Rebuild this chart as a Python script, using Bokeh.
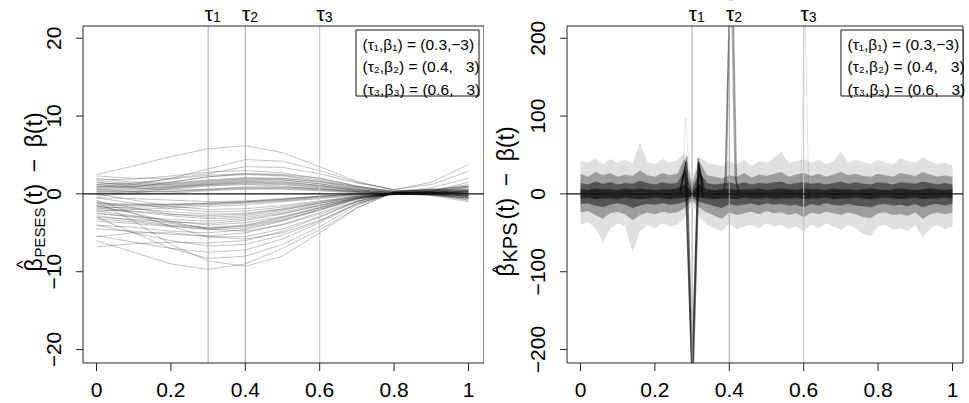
import math
from bokeh.plotting import figure
from bokeh.layouts import row
from bokeh.models import Range1d, Label, BoxAnnotation
from bokeh.embed import file_html
from bokeh.resources import INLINE

FONT = "Liberation Sans"
SHIFT = 0.26   # em; compensates the drop of Bokeh's "alphabetic" label baseline

# ---------------- data ----------------
X_TICKS = [0.0, 0.2, 0.4, 0.6, 0.8, 1.0]
Y_TICKS_PESES = [-20, -10, 0, 10, 20]
Y_TICKS_KPS = [-200, -100, 0, 100, 200]
TAUS = [0.3, 0.4, 0.6]
TAU_SUBS = ["1", "2", "3"]
TAU_COLORS = ["#a8a8a8", "#a8a8a8", "#c6c6c6"]
LEGEND_LINES = ["(\u03c4\u2081,\u03b2\u2081) = (0.3,\u22123)",
                "(\u03c4\u2082,\u03b2\u2082) = (0.4,\u2007 3)",
                "(\u03c4\u2083,\u03b2\u2083) = (0.6,\u2007 3)"]

# PESES estimation errors, read at t = 0, 0.1, ..., 1
T_KNOTS = [0.0, 0.1, 0.2, 0.3, 0.4, 0.5, 0.6, 0.7, 0.8, 0.9, 1.0]
PESES_UPPER = [
    [2.5, 3.6, 4.8, 5.8, 6.2, 5.3, 3.5, 1.6, 0.5, 0.2, 0.0],
    [1.0, 1.2, 2.0, 3.2, 4.4, 4.2, 3.0, 1.5, 0.5, 1.5, 3.8],
    [2.3, 2.0, 2.0, 2.6, 3.5, 3.4, 2.6, 1.4, 0.6, 1.2, 2.9],
    [2.0, 1.5, 1.5, 2.2, 2.6, 2.5, 2.0, 1.0, 0.3, 0.8, 2.0],
    [1.7, 1.3, 1.2, 1.6, 2.0, 2.0, 1.6, 0.9, 0.4, 0.5, 1.0],
    [1.5, 1.0, 1.1, 1.5, 1.8, 1.8, 1.3, 0.6, 0.1, 0.3, 1.5],
    [1.2, 0.9, 1.0, 1.4, 1.7, 1.6, 1.1, 0.4, 0.0, 0.2, 0.5],
    [0.8, 0.7, 0.9, 1.3, 1.6, 1.5, 1.1, 0.5, 0.1, 0.0, -0.3],
    [0.5, 0.6, 0.9, 1.2, 1.5, 1.4, 1.0, 0.5, 0.2, 0.1, 0.3],
    [0.3, 0.4, 0.8, 1.2, 1.4, 1.3, 0.9, 0.4, 0.1, -0.1, -0.5],
    [0.0, 0.3, 0.7, 1.1, 1.3, 1.2, 0.8, 0.3, 0.0, -0.2, -1.0],
    [-0.3, 0.1, 0.6, 1.0, 1.2, 1.0, 0.6, 0.2, 0.0, 0.0, 0.2],
    [1.0, 0.8, 0.5, 0.6, 0.8, 0.8, 0.6, 0.3, 0.0, 0.0, 0.5],
    [0.6, 0.3, 0.3, 0.5, 0.7, 0.7, 0.5, 0.2, 0.0, 0.3, 1.0],
    [0.2, 0.0, 0.1, 0.4, 0.6, 0.6, 0.4, 0.1, -0.1, 0.1, 0.8],
    [1.8, 1.9, 2.3, 2.8, 3.0, 2.7, 2.0, 1.0, 0.3, 0.4, 1.2],
    [0.7, 0.9, 1.5, 2.2, 2.5, 2.3, 1.6, 0.8, 0.2, -0.2, -0.6],
    [1.2, 1.4, 1.9, 2.4, 2.6, 2.4, 1.8, 0.9, 0.2, 0.0, 0.0],
    [0.4, 0.2, 0.3, 0.6, 0.9, 0.9, 0.7, 0.3, 0.0, 0.0, 0.3],
    [0.9, 1.0, 1.3, 1.7, 1.9, 1.8, 1.3, 0.6, 0.1, 0.2, 0.9],
    [1.4, 1.2, 1.4, 1.8, 2.1, 2.0, 1.5, 0.7, 0.2, 0.1, -0.2],
]
PESES_LOWER = [
    [-1.5, -1.5, -1.4, -1.3, -1.1, -0.8, -0.4, -0.1, 0.0, 0.0, 0.0],
    [-1.3, -1.4, -1.4, -1.2, -1.0, -0.7, -0.3, 0.0, 0.1, 0.0, -0.2],
    [-1.8, -1.7, -1.6, -1.4, -1.2, -0.9, -0.5, -0.1, 0.0, 0.1, 0.3],
    [-0.5, -1.2, -1.9, -2.3, -2.2, -1.7, -1.0, -0.3, 0.1, 0.2, 0.0],
    [-1.0, -1.8, -2.6, -3.0, -2.8, -2.1, -1.2, -0.4, 0.0, 0.0, -0.3],
    [-2.0, -2.3, -2.8, -3.2, -3.0, -2.3, -1.4, -0.5, 0.0, 0.2, 0.5],
    [-2.5, -2.9, -3.3, -3.5, -3.2, -2.5, -1.5, -0.5, 0.1, 0.3, 0.6],
    [-3.0, -3.3, -3.6, -3.8, -3.4, -2.6, -1.5, -0.5, 0.0, 0.0, -0.5],
    [-2.8, -3.4, -4.0, -4.3, -4.0, -3.0, -1.8, -0.6, 0.0, 0.1, 0.0],
    [-3.5, -3.8, -4.2, -4.5, -4.1, -3.1, -1.8, -0.5, 0.1, 0.0, -0.8],
    [-2.2, -2.8, -3.5, -4.0, -3.7, -2.9, -1.7, -0.6, -0.1, 0.0, 0.4],
    [-4.0, -4.3, -4.8, -5.0, -4.6, -3.5, -2.1, -0.7, 0.1, 0.3, 0.2],
    [-1.5, -2.5, -3.6, -4.5, -4.8, -4.0, -2.6, -1.0, 0.0, 0.2, -0.2],
    [-4.5, -4.8, -5.2, -5.4, -5.0, -3.9, -2.4, -0.9, 0.1, 0.4, 0.8],
    [-0.8, -2.5, -4.2, -5.5, -5.8, -5.0, -3.4, -1.3, 0.1, 0.4, 0.0],
    [-5.5, -5.0, -5.0, -5.5, -5.5, -4.5, -2.9, -1.0, 0.2, 0.3, -0.4],
    [-6.8, -6.4, -6.2, -6.3, -6.0, -4.8, -3.0, -1.0, 0.3, 0.5, 0.2],
    [-5.4, -6.2, -7.0, -7.5, -7.2, -5.8, -3.7, -1.3, 0.2, 0.6, 1.0],
    [-3.0, -5.0, -7.0, -8.3, -8.0, -6.5, -4.2, -1.5, 0.2, 0.5, 0.0],
    [-6.0, -7.5, -9.0, -9.7, -9.0, -7.0, -4.6, -1.8, 0.2, 0.6, 0.5],
    [-1.0, -3.5, -6.5, -8.6, -9.3, -8.0, -5.0, -1.8, 0.3, 0.6, 0.3],
    [-4.0, -5.0, -6.0, -6.7, -6.5, -5.3, -3.5, -1.2, 0.1, 0.3, -0.3],
    [-2.5, -3.0, -3.8, -4.4, -4.2, -3.3, -2.0, -0.7, 0.0, -0.1, -0.8],
    [-1.8, -2.2, -2.6, -2.8, -2.6, -2.0, -1.2, -0.4, 0.0, 0.0, -0.4],
    [0.0, -0.8, -1.6, -2.0, -1.9, -1.5, -0.9, -0.3, 0.0, -0.1, -0.5],
    [-0.5, -0.6, -0.8, -1.0, -0.9, -0.6, -0.3, 0.0, 0.0, 0.0, -0.2],
    [-1.2, -1.3, -1.3, -1.2, -1.0, -0.7, -0.3, 0.0, 0.0, 0.1, 0.4],
    [-2.2, -2.0, -1.8, -1.6, -1.4, -1.0, -0.6, -0.2, 0.0, 0.0, -0.6],
    [-1.6, -1.9, -2.3, -2.6, -2.5, -1.9, -1.1, -0.3, 0.0, 0.1, 0.2],
    [-3.2, -3.6, -4.1, -4.6, -4.4, -3.4, -2.0, -0.6, 0.1, 0.2, 0.1],
]

# KPS estimation errors: envelopes of the bundle read at t = 0, 0.02, ..., 1
T_GRID = [round(0.02 * i, 2) for i in range(51)]
KPS_OUTER_HI = [42, 40, 46, 38, 45, 40, 44, 39, 66, 41, 38, 45, 40, 43, 52, 20, 48, 40, 38, 36,
                42, 38, 44, 36, 42, 40, 46, 54, 40, 42, 45, 40, 44, 38, 42, 54, 40, 44, 41, 38,
                44, 40, 38, 46, 42, 40, 47, 42, 38, 40, 36]
KPS_OUTER_LO = [-40, -36, -44, -62, -45, -38, -42, -75, -48, -40, -44, -38, -42, -40, -30, -12, -30, -40, -44, -48,
                -38, -45, -42, -40, -44, -38, -42, -40, -45, -42, -48, -40, -44, -38, -42, -46, -40, -44, -52, -54,
                -42, -40, -46, -44, -48, -40, -56, -44, -40, -45, -42]
KPS_MID_HI = [26, 22, 28, 24, 27, 22, 25, 23, 30, 24, 22, 27, 24, 26, 45, 12, 42, 24, 22, 20,
              24, 22, 27, 21, 25, 23, 26, 28, 22, 25, 27, 23, 26, 22, 25, 28, 24, 26, 23, 22,
              26, 24, 22, 27, 25, 23, 28, 25, 22, 24, 22]
KPS_MID_LO = [-24, -22, -27, -32, -25, -23, -26, -34, -27, -24, -26, -23, -25, -24, -18, -8, -18, -24, -28, -32,
              -24, -27, -25, -23, -26, -22, -25, -24, -27, -25, -30, -24, -26, -23, -25, -27, -24, -26, -30, -31,
              -25, -24, -27, -26, -28, -24, -32, -26, -24, -26, -24]
KPS_INNER_HI = [14, 12, 16, 13, 15, 12, 14, 13, 17, 14, 12, 15, 13, 14, 30, 6, 28, 14, 12, 13,
                15, 12, 15, 12, 14, 13, 15, 16, 12, 14, 15, 13, 14, 12, 14, 16, 13, 15, 13, 12,
                15, 14, 12, 15, 14, 13, 16, 14, 12, 14, 12]
KPS_INNER_LO = [-13, -12, -15, -17, -14, -12, -14, -18, -15, -13, -14, -12, -14, -13, -10, -5, -10, -13, -16, -18,
                -13, -15, -14, -12, -15, -12, -14, -13, -15, -14, -17, -13, -15, -12, -14, -15, -13, -15, -16, -17,
                -14, -13, -15, -14, -16, -13, -17, -14, -13, -15, -13]
KPS_CORE_HI = [6, 5, 7, 6, 6, 5, 7, 6, 7, 6, 5, 6, 6, 7, 12, 3, 12, 6, 5, 6,
               7, 5, 6, 6, 7, 5, 6, 7, 6, 5, 7, 6, 6, 5, 7, 6, 6, 5, 6, 7,
               6, 5, 6, 7, 6, 5, 6, 7, 6, 5, 6]
KPS_CORE_LO = [-6, -5, -7, -6, -6, -7, -5, -6, -7, -6, -5, -6, -7, -6, -5, -3, -5, -6, -7, -6,
               -6, -7, -5, -6, -6, -5, -7, -6, -6, -5, -7, -6, -6, -5, -7, -6, -6, -5, -6, -7,
               -6, -5, -6, -7, -6, -5, -7, -6, -6, -5, -6]
# spikes of individual KPS curves
SPIKE1_T = [[0.270, 0.284, 0.301, 0.318, 0.330], [0.268, 0.282, 0.300, 0.316, 0.328],
            [0.272, 0.286, 0.302, 0.319, 0.332], [0.266, 0.281, 0.299, 0.317, 0.329]]
SPIKE1_V = [[10, 42, -245, 40, 8], [4, 34, -238, 46, 2], [14, 48, -250, 34, 10], [-2, 30, -232, 42, -4]]
SPIKE2_T = [[0.384, 0.390, 0.405, 0.418, 0.426], [0.382, 0.392, 0.404, 0.415, 0.424],
            [0.386, 0.389, 0.406, 0.420, 0.428]]
SPIKE2_V = [[6, 20, 330, 18, 4], [0, 12, 300, 24, -2], [8, 26, 360, 10, 6]]
FAINT_T = [[0.272, 0.283, 0.294], [0.592, 0.603, 0.614]]
FAINT_V = [[20, 97, 15], [0, 250, -10]]

# ---------------- layout helpers (window pixels -> data units) ----------------
def lx(xw): return (xw - 96) / 372.0
def ly(yw): return (193.4 - yw) / 7.783
def rx(xw): return (xw - 580) / 372.0
def ry(yw): return (193.4 - yw) * 10 / 7.783


def tick_text(t):
    return ("%g" % t).replace("-", "\u2212")


def make_fig(width, fx, fy, x0w, x1w):
    p = figure(width=width, height=403, x_range=Range1d(fx(x0w), fx(x1w)), y_range=Range1d(fy(403), fy(0)),
               output_backend="svg", toolbar_location=None, x_axis_location=None, y_axis_location=None,
               min_border=0, min_border_left=0, min_border_right=0, min_border_top=0, min_border_bottom=0)
    p.grid.visible = False
    p.outline_line_color = None
    p.background_fill_color = "white"
    p.border_fill_color = "white"
    return p


def htext(p, x, fy, base_px, text, size, align="left", x_offset=0):
    """horizontal text; base_px = wanted baseline (window px)"""
    p.add_layout(Label(x=x, y=fy(base_px - SHIFT * size), text=text, text_font=FONT,
                       text_font_size="%gpx" % size, text_align=align, text_baseline="alphabetic",
                       x_offset=x_offset, text_color="black"))


def vtext(p, fx, base_px, y, text, size, align="left"):
    """text rotated to read upwards; base_px = wanted baseline column (window px)"""
    p.add_layout(Label(x=fx(base_px - SHIFT * size), y=y, text=text, text_font=FONT,
                       text_font_size="%gpx" % size, text_align=align, text_baseline="alphabetic",
                       angle=math.pi / 2, text_color="black"))


def decorate(p, fx, fy, box, yticks, ytick_base, sub, sub_size, hat_x, base_x, sub_x, y_beta, y_sub, y_rest,
             legend_box, legend_x):
    L, R, T, B = box
    n = len(TAUS)
    p.segment(x0=TAUS, y0=[fy(B)] * n, x1=TAUS, y1=[fy(T)] * n, line_color=TAU_COLORS, line_width=1)
    p.segment(x0=[fx(L)], y0=[0], x1=[fx(R)], y1=[0], line_color="#151515", line_width=1.4)
    p.add_layout(BoxAnnotation(left=fx(L), right=fx(R), top=fy(T), bottom=fy(B), fill_alpha=0,
                               line_color="#222222", line_width=1, line_alpha=1))
    nx, ny = len(X_TICKS), len(yticks)
    p.segment(x0=X_TICKS, y0=[fy(B)] * nx, x1=X_TICKS, y1=[fy(B + 8)] * nx, line_color="#222222", line_width=1)
    p.segment(x0=[fx(L)] * ny, y0=yticks, x1=[fx(L - 7)] * ny, y1=yticks, line_color="#222222", line_width=1)
    for t in X_TICKS:
        htext(p, t, fy, 395, tick_text(t), 21, align="center")
    for v in yticks:
        vtext(p, fx, ytick_base, v, tick_text(v), 21, align="center")
    for tau, s in zip(TAUS, TAU_SUBS):
        htext(p, tau, fy, 18.5, "\u03c4", 21, align="right", x_offset=5)
        htext(p, tau, fy, 20.5, s, 14, align="left", x_offset=5)
    # rotated y axis label
    vtext(p, fx, hat_x, fy(y_beta - 7), "^", 18, align="center")
    vtext(p, fx, base_x, fy(y_beta), "\u03b2", 23)
    vtext(p, fx, sub_x, fy(y_sub), sub, sub_size)
    vtext(p, fx, base_x, fy(y_rest), "(t)\u2002\u2212\u2002\u03b2(t)", 23)
    # legend
    l, r, t, b = legend_box
    p.add_layout(BoxAnnotation(left=fx(l), right=fx(r), top=fy(t), bottom=fy(b), fill_color="white",
                               fill_alpha=1, line_color="#111111", line_width=1, line_alpha=1))
    for line, yb in zip(LEGEND_LINES, (48, 70.5, 93)):
        htext(p, fx(legend_x), fy, yb, line, 15.5)


# ---------------- left panel: PESES ----------------
p1 = make_fig(484, lx, ly, 0, 484)
curves = PESES_UPPER + PESES_LOWER
p1.multi_line(xs=[T_KNOTS] * len(curves), ys=curves, line_color="black", line_alpha=0.24, line_width=1)
decorate(p1, lx, ly, (82.5, 483.5, 25.5, 362.5), Y_TICKS_PESES, 59, "PESES", 15,
         hat_x=27, base_x=39, sub_x=43, y_beta=271, y_sub=257, y_rest=205,
         legend_box=(355.5, 478.5, 29.5, 95.5), legend_x=362)

# ---------------- right panel: KPS ----------------
p2 = make_fig(485, rx, ry, 484, 969)
p2.varea(x=T_GRID, y1=KPS_OUTER_LO, y2=KPS_OUTER_HI, fill_color="black", fill_alpha=0.12)
p2.varea(x=T_GRID, y1=KPS_MID_LO, y2=KPS_MID_HI, fill_color="black", fill_alpha=0.30)
p2.varea(x=T_GRID, y1=KPS_INNER_LO, y2=KPS_INNER_HI, fill_color="black", fill_alpha=0.45)
p2.varea(x=T_GRID, y1=KPS_CORE_LO, y2=KPS_CORE_HI, fill_color="black", fill_alpha=0.55)
p2.multi_line(xs=FAINT_T, ys=FAINT_V, line_color="black", line_alpha=0.1, line_width=1)
p2.multi_line(xs=SPIKE2_T, ys=SPIKE2_V, line_color="black", line_alpha=0.3, line_width=1.2)
p2.multi_line(xs=SPIKE1_T, ys=SPIKE1_V, line_color="black", line_alpha=0.45, line_width=1.3)
# white masks: curves leaving the box are cut at its top and bottom edges
p2.quad(left=[rx(620), rx(620)], right=[rx(820), rx(820)], top=[ry(0), ry(362.5)], bottom=[ry(25.5), ry(403)],
        fill_color="white", line_color=None)
decorate(p2, rx, ry, (566.5, 962.5, 25.5, 362.5), Y_TICKS_KPS, 543, "KPS", 20,
         hat_x=503, base_x=511, sub_x=515, y_beta=276, y_sub=262, y_rest=219,
         legend_box=(840.5, 962.5, 29.5, 95.5), legend_x=847)

layout = row(p1, p2, spacing=0)
open("out.html", "w").write(file_html(layout, INLINE))
